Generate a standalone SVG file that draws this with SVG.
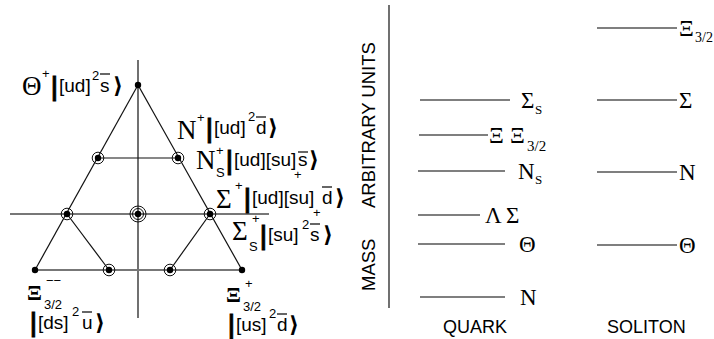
<svg xmlns="http://www.w3.org/2000/svg" width="714" height="339" viewBox="0 0 714 339">
<style>
.sr{font-family:"Liberation Serif",serif;fill:#000}
.ss{font-family:"Liberation Sans",sans-serif;fill:#000}
.big{font-size:27px}
.xi{font-size:22px;font-weight:bold}
.lab{font-size:19px}
.sup{font-size:13px}
.bar{font-family:"DejaVu Sans",sans-serif;font-weight:bold;font-size:24px;stroke:#000;stroke-width:0.8}
.ket{font-family:"DejaVu Sans",sans-serif;font-weight:bold;font-size:22px}
.lv{font-size:23px}
.ov{stroke:#000;stroke-width:1.2}
.tri{stroke:#111;stroke-width:1.2;fill:none}
.axg{stroke:#777;stroke-width:1.8;fill:none}
.lvl{stroke:#555;stroke-width:1.3}
.ring{fill:none;stroke:#111;stroke-width:1}
</style>
<g id="connectors">
  <line class="tri" x1="138" y1="60" x2="138" y2="318"/>
  <line class="axg" x1="10" y1="214" x2="269" y2="214"/>
  <line class="axg" x1="35" y1="270" x2="242" y2="270"/>
  <line class="tri" x1="98" y1="158" x2="178" y2="158"/>
  <line class="tri" x1="138" y1="85" x2="35" y2="270"/>
  <line class="tri" x1="138" y1="85" x2="242" y2="270"/>
  <line class="tri" x1="67" y1="214" x2="109" y2="270"/>
  <line class="tri" x1="210" y1="214" x2="170" y2="270"/>
</g>
<g id="node-apex"><circle cx="138" cy="85" r="3.2"/></g>
<g id="node-n1"><circle cx="98" cy="158" r="3.2"/><circle class="ring" cx="98" cy="158" r="5.8"/></g>
<g id="node-n2"><circle cx="178" cy="158" r="3.2"/><circle class="ring" cx="178" cy="158" r="5.8"/></g>
<g id="node-m1"><circle cx="67" cy="214" r="3.2"/><circle class="ring" cx="67" cy="214" r="5.8"/></g>
<g id="node-m2"><circle cx="138" cy="214" r="3.2"/><circle class="ring" cx="138" cy="214" r="5.5"/><circle class="ring" cx="138" cy="214" r="8"/></g>
<g id="node-m3"><circle cx="210" cy="214" r="3.2"/><circle class="ring" cx="210" cy="214" r="5.8"/></g>
<g id="node-b1"><circle cx="35" cy="270" r="3.2"/></g>
<g id="node-b2"><circle cx="109" cy="270" r="3.2"/><circle class="ring" cx="109" cy="270" r="5.8"/></g>
<g id="node-b3"><circle cx="170" cy="270" r="3.2"/><circle class="ring" cx="170" cy="270" r="5.8"/></g>
<g id="node-b4"><circle cx="242" cy="270" r="3.2"/></g>

<g id="label-theta">
  <text class="sr big" x="22" y="95">Θ</text>
  <text class="ss sup" x="42" y="78">+</text>
  <text class="bar" x="50" y="95">|</text>
  <text class="ss lab" x="59" y="92">[ud]</text>
  <text class="ss sup" x="92" y="80">2</text>
  <text class="ss lab" x="100" y="92">s</text>
  <line class="ov" x1="100" y1="74" x2="110" y2="74"/>
  <text class="ket" x="113" y="93">⟩</text>
</g>
<g id="label-N">
  <text class="sr big" x="177" y="139">N</text>
  <text class="ss sup" x="197" y="122">+</text>
  <text class="bar" x="205" y="137">|</text>
  <text class="ss lab" x="214" y="134">[ud]</text>
  <text class="ss sup" x="248" y="121">2</text>
  <text class="ss lab" x="256" y="134">d</text>
  <line class="ov" x1="256" y1="117" x2="266" y2="117"/>
  <text class="ket" x="268" y="135">⟩</text>
</g>
<g id="label-Ns">
  <text class="sr big" x="196" y="169">N</text>
  <text class="ss sup" x="216" y="177">S</text>
  <text class="ss sup" x="216" y="155">+</text>
  <text class="bar" x="225" y="169">|</text>
  <text class="ss lab" x="234" y="166">[ud][su]</text>
  <text class="ss sup" x="294" y="179">+</text>
  <text class="ss lab" x="298" y="166">s</text>
  <line class="ov" x1="298" y1="152" x2="308" y2="152"/>
  <text class="ket" x="309" y="167">⟩</text>
</g>
<g id="label-Sigma">
  <text class="sr big" x="216" y="208">Σ</text>
  <text class="ss sup" x="235" y="190">+</text>
  <text class="bar" x="243" y="207">|</text>
  <text class="ss lab" x="252" y="204">[ud][su]</text>
  <text class="ss sup" x="313" y="217">+</text>
  <text class="ss lab" x="322" y="204">d</text>
  <line class="ov" x1="322" y1="187" x2="332" y2="187"/>
  <text class="ket" x="335" y="205">⟩</text>
</g>
<g id="label-Sigmas">
  <text class="sr big" x="232" y="240">Σ</text>
  <text class="ss sup" x="249" y="251">S</text>
  <text class="ss sup" x="252" y="223">+</text>
  <text class="bar" x="259" y="244">|</text>
  <text class="ss lab" x="268" y="241">[su]</text>
  <text class="ss sup" x="302" y="229">2</text>
  <text class="ss lab" x="310" y="241">s</text>
  <line class="ov" x1="310" y1="224" x2="320" y2="224"/>
  <text class="ket" x="323" y="242">⟩</text>
</g>
<g id="label-Xi-minus">
  <text class="sr xi" x="27" y="300">Ξ</text>
  <text class="ss sup" x="46" y="285">−−</text>
  <text class="ss sup" x="44" y="309">3/2</text>
  <text class="bar" x="29" y="331">|</text>
  <text class="ss lab" x="38" y="329">[ds]</text>
  <text class="ss sup" x="72" y="316">2</text>
  <text class="ss lab" x="82" y="329">u</text>
  <line class="ov" x1="82" y1="312" x2="92" y2="312"/>
  <text class="ket" x="95" y="330">⟩</text>
</g>
<g id="label-Xi-plus">
  <text class="sr xi" x="226" y="302">Ξ</text>
  <text class="ss sup" x="245" y="288">+</text>
  <text class="ss sup" x="243" y="311">3/2</text>
  <text class="bar" x="227" y="333">|</text>
  <text class="ss lab" x="236" y="331">[us]</text>
  <text class="ss sup" x="269" y="318">2</text>
  <text class="ss lab" x="277" y="331">d</text>
  <line class="ov" x1="277" y1="314" x2="287" y2="314"/>
  <text class="ket" x="289" y="332">⟩</text>
</g>

<g id="mass-axis">
  <line stroke="#111" stroke-width="1.2" x1="389" y1="5" x2="389" y2="308"/>
  <text class="ss" font-size="18.5" transform="translate(375,291) rotate(-90)"><tspan x="0" y="0">MASS</tspan><tspan x="83" y="0">ARBITRARY UNITS</tspan></text>
</g>

<g id="quark">
  <line class="lvl" x1="420" y1="100" x2="510" y2="100"/>
  <text class="sr lv" x="521" y="108">Σ</text><text class="sr sup" x="535" y="114">S</text>
  <line class="lvl" x1="419" y1="135" x2="488" y2="135"/>
  <text class="sr lv" x="489" y="143">Ξ</text><text class="sr lv" x="510" y="143">Ξ</text><text class="sr" font-size="15" x="527" y="151">3/2</text>
  <line class="lvl" x1="418" y1="171" x2="505" y2="171"/>
  <text class="sr lv" x="518" y="179">N</text><text class="sr sup" x="535" y="184">S</text>
  <line class="lvl" x1="418" y1="215" x2="480" y2="215"/>
  <text class="sr lv" x="485" y="223">Λ</text><text class="sr lv" x="506" y="223">Σ</text>
  <line class="lvl" x1="418" y1="244" x2="505" y2="244"/>
  <text class="sr lv" x="519" y="252">Θ</text>
  <line class="lvl" x1="420" y1="297" x2="505" y2="297"/>
  <text class="sr lv" x="520" y="305">N</text>
  <text class="ss" font-size="18" x="443" y="333">QUARK</text>
</g>

<g id="soliton">
  <line class="lvl" x1="597" y1="28" x2="677" y2="28"/>
  <text class="sr lv" x="679" y="36">Ξ</text><text class="sr" font-size="14" x="695" y="42">3/2</text>
  <line class="lvl" x1="597" y1="100" x2="677" y2="100"/>
  <text class="sr lv" x="679" y="108">Σ</text>
  <line class="lvl" x1="597" y1="172" x2="677" y2="172"/>
  <text class="sr lv" x="679" y="180">N</text>
  <line class="lvl" x1="597" y1="245" x2="677" y2="245"/>
  <text class="sr lv" x="679" y="253">Θ</text>
  <text class="ss" font-size="18" x="607" y="333">SOLITON</text>
</g>
</svg>
